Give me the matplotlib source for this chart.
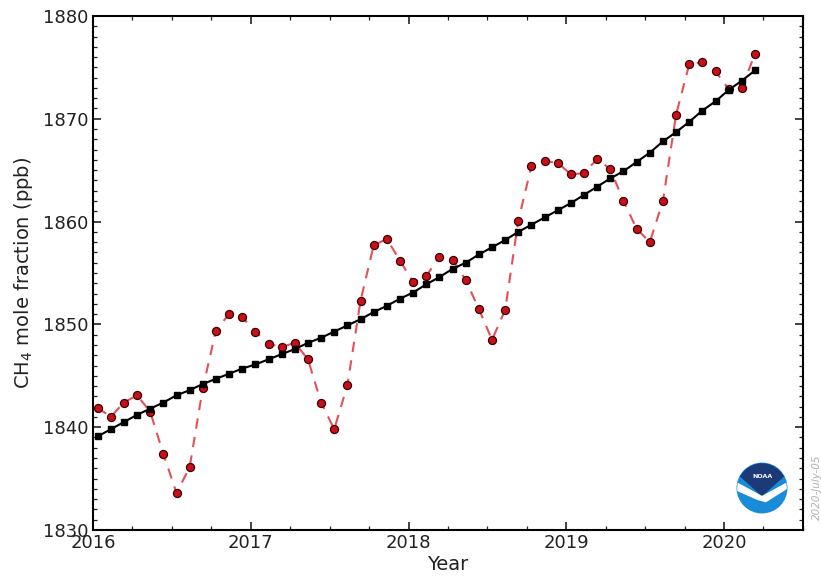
import numpy as np
import matplotlib
matplotlib.use("Agg")
import matplotlib.pyplot as plt
from matplotlib.patches import Circle, Wedge, Polygon
from matplotlib.ticker import MultipleLocator

# ---- data: global monthly mean CH4 (ppb), Jan 2016 .. Mar 2020 ----
start_year = 2016
monthly = [1841.9, 1841.0, 1842.4, 1843.1, 1841.5, 1837.4, 1833.6, 1836.1, 1843.8, 1849.4, 1851.0, 1850.7,
           1849.3, 1848.1, 1847.8, 1848.2, 1846.6, 1842.4, 1839.8, 1844.1, 1852.3, 1857.7, 1858.3, 1856.2,
           1854.1, 1854.7, 1856.6, 1856.3, 1854.3, 1851.5, 1848.5, 1851.4, 1860.1, 1865.4, 1865.9, 1865.7,
           1864.6, 1864.7, 1866.1, 1865.1, 1862.0, 1859.3, 1858.0, 1862.0, 1870.4, 1875.3, 1875.5, 1874.6,
           1872.9, 1873.0, 1876.3]
trend = [1839.1, 1839.8, 1840.5, 1841.2, 1841.8, 1842.4, 1843.1, 1843.6, 1844.2, 1844.7, 1845.2, 1845.7,
         1846.1, 1846.6, 1847.1, 1847.6, 1848.2, 1848.7, 1849.3, 1849.9, 1850.5, 1851.2, 1851.8, 1852.5,
         1853.1, 1853.9, 1854.6, 1855.4, 1856.0, 1856.8, 1857.5, 1858.2, 1859.0, 1859.7, 1860.4, 1861.1,
         1861.8, 1862.6, 1863.4, 1864.2, 1864.9, 1865.8, 1866.7, 1867.8, 1868.7, 1869.7, 1870.8, 1871.7,
         1872.8, 1873.7, 1874.7]
# decimal dates of the monthly values
dates = start_year + (np.arange(len(monthly)) + 0.35) / 12.0

xticks = [2016, 2017, 2018, 2019, 2020]
yticks = [1830, 1840, 1850, 1860, 1870, 1880]

fig = plt.figure(figsize=(8.21, 5.81), dpi=100)
ax = fig.add_axes([0.1133, 0.0878, 0.8647, 0.8847])

ax.plot(dates, monthly, color='#e4505a', ls=(0, (5, 4)), lw=1.5, zorder=2)
ax.plot(dates, monthly, 'o', ms=5.8, mfc='#c8101a', mec='#3a0000', mew=0.9, zorder=3)
ax.plot(dates, trend, color='black', lw=1.5, marker='s', ms=4.3, zorder=4)

ax.set_xlim(2016, 2020.5)
ax.set_ylim(1830, 1880)
ax.set_xticks(xticks)
ax.set_yticks(yticks)
ax.xaxis.set_minor_locator(MultipleLocator(0.25))
ax.yaxis.set_minor_locator(MultipleLocator(1))
ax.tick_params(which='both', direction='in', top=True, right=True, labelsize=13, colors='#222222')
ax.tick_params(which='major', length=6, width=1.2, pad=3)
ax.tick_params(which='minor', length=3, width=0.9)
for s in ax.spines.values():
    s.set_linewidth(1.5)

ax.set_xlabel('Year', fontsize=14, labelpad=2, color='#222222')
ax.set_ylabel('CH$_4$ mole fraction (ppb)', fontsize=14, labelpad=6, color='#222222')

# NOAA logo (rough)
lax = fig.add_axes([0.8965, 0.1153, 0.0633, 0.0895])
lax.set_xlim(-1.05, 1.05)
lax.set_ylim(-1.05, 1.05)
lax.set_aspect('equal')
lax.axis('off')
circ = Circle((0, 0), 1.0, color='#1a8bd6')
lax.add_patch(circ)
navy = Wedge((0, -0.3), 1.6, 42, 138, color='#1c3a78')
lax.add_patch(navy)
navy.set_clip_path(circ)
gull = Polygon([(-1.1, 0.25), (0.0, -0.35), (1.1, 0.25), (1.1, 0.05), (0.15, -0.55),
                (-0.2, -0.45), (-1.1, -0.05)], closed=True, color='white')
lax.add_patch(gull)
gull.set_clip_path(circ)
lax.text(0, 0.45, 'NOAA', color='white', fontsize=4.5, ha='center', va='center', weight='bold')

fig.text(0.995, 0.105, '2020-July-05', rotation=90, color='#b0b0b0', fontsize=7.5,
         style='italic', ha='center', va='bottom')

fig.savefig('out.png', dpi=100)
